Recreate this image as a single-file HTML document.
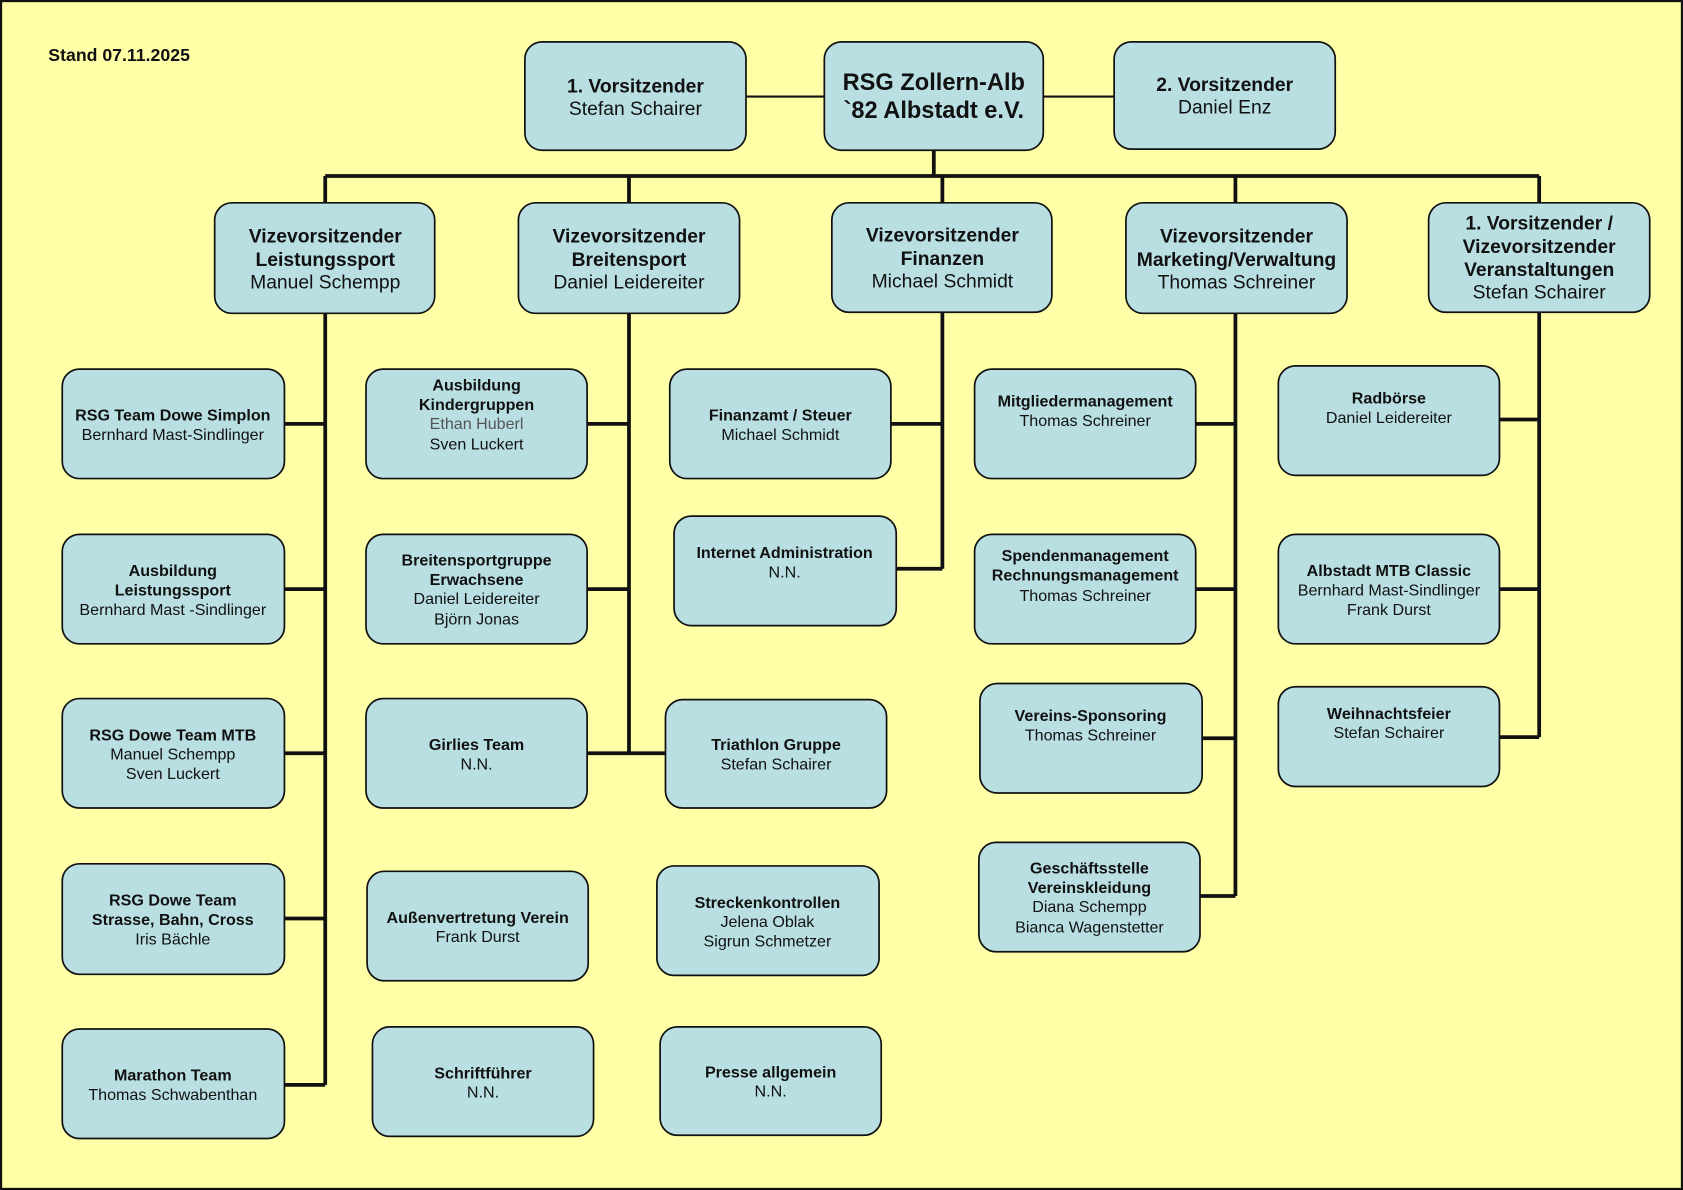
<!DOCTYPE html>
<html><head><meta charset="utf-8"><style>
html,body{margin:0;padding:0;background:#ffffa8;}
svg{display:block}
text{font-family:"Liberation Sans",Arial,sans-serif;fill:#111;text-anchor:middle}
.b{font-weight:bold}
rect.bx{fill:#b9dfe3;stroke:#111;stroke-width:1.6}
.ln{stroke:#111;stroke-width:3.5;fill:none}
.t1{font-size:18px}
.t2{font-size:15px}
</style></head><body>
<svg width="1683" height="1190" viewBox="0 0 1568 1109" preserveAspectRatio="none">
<rect x="1" y="1" width="1566" height="1107" fill="#ffffa8" stroke="#111" stroke-width="2"/>
<text x="45" y="57" class="b" style="font-size:16.5px;text-anchor:start">Stand 07.11.2025</text>
<!-- lines -->
<path class="ln" style="stroke-width:2" d="M695 90H768M972 90H1038"/>
<path class="ln" d="M870 140V164M303 164H1434M303 164V189M586 164V189M878 164V189M1151 164V189M1434 164V189"/>
<path class="ln" d="M303 292V1011M265 395H303M265 549H303M265 702H303M265 856H303M265 1011H303"/>
<path class="ln" d="M586 292V702M547 395H586M547 549H586M547 702H620"/>
<path class="ln" d="M878 291V530M830 395H878M835 530H878"/>
<path class="ln" d="M1151 292V835M1114 395H1151M1114 549H1151M1120 688H1151M1118 835H1151"/>
<path class="ln" d="M1434 291V687M1397 391H1434M1397 549H1434M1397 687H1434"/>
<!-- top -->
<rect class="bx" x="489" y="39" width="206" height="101" rx="16"/>
<text x="592" y="86" class="t1 b">1. Vorsitzender</text><text x="592" y="107" class="t1">Stefan Schairer</text>
<rect class="bx" x="768" y="39" width="204" height="101" rx="16"/>
<text x="870" y="84" class="b" style="font-size:22px">RSG Zollern-Alb</text><text x="870" y="110" class="b" style="font-size:22px">`82 Albstadt e.V.</text>
<rect class="bx" x="1038" y="39" width="206" height="100" rx="16"/>
<text x="1141" y="85" class="t1 b">2. Vorsitzender</text><text x="1141" y="106" class="t1">Daniel Enz</text>
<!-- row 2 -->
<rect class="bx" x="200" y="189" width="205" height="103" rx="16"/>
<text x="303" y="226" class="t1 b">Vizevorsitzender</text><text x="303" y="248" class="t1 b">Leistungssport</text><text x="303" y="269" class="t1">Manuel Schempp</text>
<rect class="bx" x="483" y="189" width="206" height="103" rx="16"/>
<text x="586" y="226" class="t1 b">Vizevorsitzender</text><text x="586" y="248" class="t1 b">Breitensport</text><text x="586" y="269" class="t1">Daniel Leidereiter</text>
<rect class="bx" x="775" y="189" width="205" height="102" rx="16"/>
<text x="878" y="225" class="t1 b">Vizevorsitzender</text><text x="878" y="247" class="t1 b">Finanzen</text><text x="878" y="268" class="t1">Michael Schmidt</text>
<rect class="bx" x="1049" y="189" width="206" height="103" rx="16"/>
<text x="1152" y="226" class="t1 b">Vizevorsitzender</text><text x="1152" y="248" class="t1 b">Marketing/Verwaltung</text><text x="1152" y="269" class="t1">Thomas Schreiner</text>
<rect class="bx" x="1331" y="189" width="206" height="102" rx="16"/>
<text x="1434" y="214" class="t1 b">1. Vorsitzender /</text><text x="1434" y="236" class="t1 b">Vizevorsitzender</text><text x="1434" y="257" class="t1 b">Veranstaltungen</text><text x="1434" y="278" class="t1">Stefan Schairer</text>
<!-- col1 -->
<rect class="bx" x="58" y="344" width="207" height="102" rx="16"/>
<text x="161" y="392" class="t2 b">RSG Team Dowe Simplon</text><text x="161" y="410" class="t2">Bernhard Mast-Sindlinger</text>
<rect class="bx" x="58" y="498" width="207" height="102" rx="16"/>
<text x="161" y="537" class="t2 b">Ausbildung</text><text x="161" y="555" class="t2 b">Leistungssport</text><text x="161" y="573" class="t2">Bernhard Mast -Sindlinger</text>
<rect class="bx" x="58" y="651" width="207" height="102" rx="16"/>
<text x="161" y="690" class="t2 b">RSG Dowe Team MTB</text><text x="161" y="708" class="t2">Manuel Schempp</text><text x="161" y="726" class="t2">Sven Luckert</text>
<rect class="bx" x="58" y="805" width="207" height="103" rx="16"/>
<text x="161" y="844" class="t2 b">RSG Dowe Team</text><text x="161" y="862" class="t2 b">Strasse, Bahn, Cross</text><text x="161" y="880" class="t2">Iris Bächle</text>
<rect class="bx" x="58" y="959" width="207" height="102" rx="16"/>
<text x="161" y="1007" class="t2 b">Marathon Team</text><text x="161" y="1025" class="t2">Thomas Schwabenthan</text>
<!-- col2 -->
<rect class="bx" x="341" y="344" width="206" height="102" rx="16"/>
<text x="444" y="364" class="t2 b">Ausbildung</text><text x="444" y="382" class="t2 b">Kindergruppen</text><text x="444" y="400" class="t2" style="fill:#555">Ethan Huberl</text><text x="444" y="419" class="t2">Sven Luckert</text>
<rect class="bx" x="341" y="498" width="206" height="102" rx="16"/>
<text x="444" y="527" class="t2 b">Breitensportgruppe</text><text x="444" y="545" class="t2 b">Erwachsene</text><text x="444" y="563" class="t2">Daniel Leidereiter</text><text x="444" y="582" class="t2">Björn Jonas</text>
<rect class="bx" x="341" y="651" width="206" height="102" rx="16"/>
<text x="444" y="699" class="t2 b">Girlies Team</text><text x="444" y="717" class="t2">N.N.</text>
<rect class="bx" x="342" y="812" width="206" height="102" rx="16"/>
<text x="445" y="860" class="t2 b">Außenvertretung Verein</text><text x="445" y="878" class="t2">Frank Durst</text>
<rect class="bx" x="347" y="957" width="206" height="102" rx="16"/>
<text x="450" y="1005" class="t2 b">Schriftführer</text><text x="450" y="1023" class="t2">N.N.</text>
<!-- col3 -->
<rect class="bx" x="624" y="344" width="206" height="102" rx="16"/>
<text x="727" y="392" class="t2 b">Finanzamt / Steuer</text><text x="727" y="410" class="t2">Michael Schmidt</text>
<rect class="bx" x="628" y="481" width="207" height="102" rx="16"/>
<text x="731" y="520" class="t2 b">Internet Administration</text><text x="731" y="538" class="t2">N.N.</text>
<rect class="bx" x="620" y="652" width="206" height="101" rx="16"/>
<text x="723" y="699" class="t2 b">Triathlon Gruppe</text><text x="723" y="717" class="t2">Stefan Schairer</text>
<rect class="bx" x="612" y="807" width="207" height="102" rx="16"/>
<text x="715" y="846" class="t2 b">Streckenkontrollen</text><text x="715" y="864" class="t2">Jelena Oblak</text><text x="715" y="882" class="t2">Sigrun Schmetzer</text>
<rect class="bx" x="615" y="957" width="206" height="101" rx="16"/>
<text x="718" y="1004" class="t2 b">Presse allgemein</text><text x="718" y="1022" class="t2">N.N.</text>
<!-- col4 -->
<rect class="bx" x="908" y="344" width="206" height="102" rx="16"/>
<text x="1011" y="379" class="t2 b">Mitgliedermanagement</text><text x="1011" y="397" class="t2">Thomas Schreiner</text>
<rect class="bx" x="908" y="498" width="206" height="102" rx="16"/>
<text x="1011" y="523" class="t2 b">Spendenmanagement</text><text x="1011" y="541" class="t2 b">Rechnungsmanagement</text><text x="1011" y="560" class="t2">Thomas Schreiner</text>
<rect class="bx" x="913" y="637" width="207" height="102" rx="16"/>
<text x="1016" y="672" class="t2 b">Vereins-Sponsoring</text><text x="1016" y="690" class="t2">Thomas Schreiner</text>
<rect class="bx" x="912" y="785" width="206" height="102" rx="16"/>
<text x="1015" y="814" class="t2 b">Geschäftsstelle</text><text x="1015" y="832" class="t2 b">Vereinskleidung</text><text x="1015" y="850" class="t2">Diana Schempp</text><text x="1015" y="869" class="t2">Bianca Wagenstetter</text>
<!-- col5 -->
<rect class="bx" x="1191" y="341" width="206" height="102" rx="16"/>
<text x="1294" y="376" class="t2 b">Radbörse</text><text x="1294" y="394" class="t2">Daniel Leidereiter</text>
<rect class="bx" x="1191" y="498" width="206" height="102" rx="16"/>
<text x="1294" y="537" class="t2 b">Albstadt MTB Classic</text><text x="1294" y="555" class="t2">Bernhard Mast-Sindlinger</text><text x="1294" y="573" class="t2">Frank Durst</text>
<rect class="bx" x="1191" y="640" width="206" height="93" rx="16"/>
<text x="1294" y="670" class="t2 b">Weihnachtsfeier</text><text x="1294" y="688" class="t2">Stefan Schairer</text>
</svg>
</body></html>
